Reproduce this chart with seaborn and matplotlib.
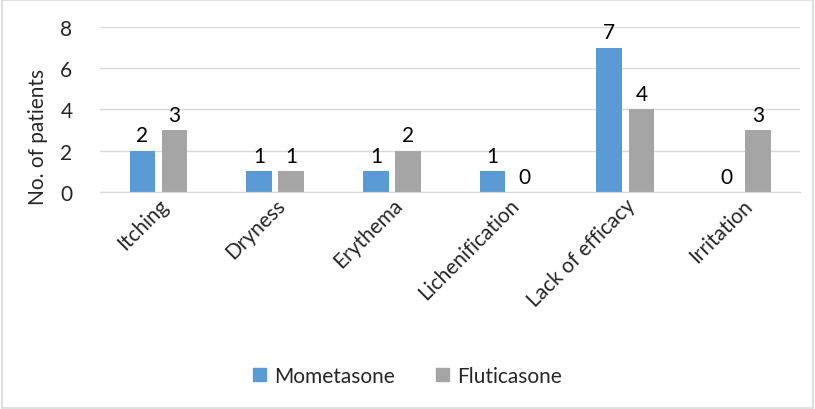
import pandas as pd
import matplotlib.pyplot as plt
import seaborn as sns
from matplotlib.patches import Rectangle

categories = ['Itching', 'Dryness', 'Erythema', 'Lichenification', 'Lack of efficacy', 'Irritation']
mometasone = [2, 1, 1, 1, 7, 0]
fluticasone = [3, 1, 2, 0, 4, 3]
series = ['Mometasone', 'Fluticasone']
colors = ['#5B9BD5', '#A5A5A5']

df = pd.DataFrame({
    'category': categories * 2,
    'patients': mometasone + fluticasone,
    'drug': [series[0]] * len(categories) + [series[1]] * len(categories),
})

sns.set_style('white')
plt.rcParams['font.family'] = ['Lato', 'DejaVu Sans']

fig = plt.figure(figsize=(8.15, 4.10), dpi=100)
ax = fig.add_axes([0.123, 0.529, 0.859, 0.403])

sns.barplot(data=df, x='category', y='patients', hue='drug', order=categories,
            hue_order=series, palette=colors, width=0.55, gap=0.2,
            saturation=1, linewidth=0, ax=ax, legend=True)

# value labels
for cont in ax.containers:
    ax.bar_label(cont, fmt='%d', padding=4, fontsize=15, color='#000000')

ax.set_ylim(0, 8)
ax.set_yticks([0, 2, 4, 6, 8])
ax.yaxis.grid(True, color='#D9D9D9', linewidth=1)
ax.set_axisbelow(True)
for s in ['top', 'right', 'left']:
    ax.spines[s].set_visible(False)
ax.spines['bottom'].set_color('#D9D9D9')
ax.tick_params(axis='y', labelsize=15, length=0, pad=20)
ax.tick_params(axis='x', labelsize=15, length=0, pad=2)
plt.setp(ax.get_xticklabels(), rotation=45, ha='right', rotation_mode='anchor')
ax.set_xlabel('')
ax.set_ylabel('No. of patients', fontsize=15)
ax.yaxis.set_label_coords(-0.075, 0.34)

ax.legend_.remove()
handles = [Rectangle((0, 0), 1, 1, color=c) for c in colors]
fig.legend(handles, series, loc='center', bbox_to_anchor=(0.5, 0.08), ncol=2,
           frameon=False, fontsize=15, handlelength=0.6, handleheight=0.6,
           columnspacing=2.0, handletextpad=0.4)

fig.patches.append(Rectangle((0.002, 0.003), 0.996, 0.994, transform=fig.transFigure,
                             fill=False, edgecolor='#D9D9D9', linewidth=1.2))

fig.savefig('out.png', dpi=100)
